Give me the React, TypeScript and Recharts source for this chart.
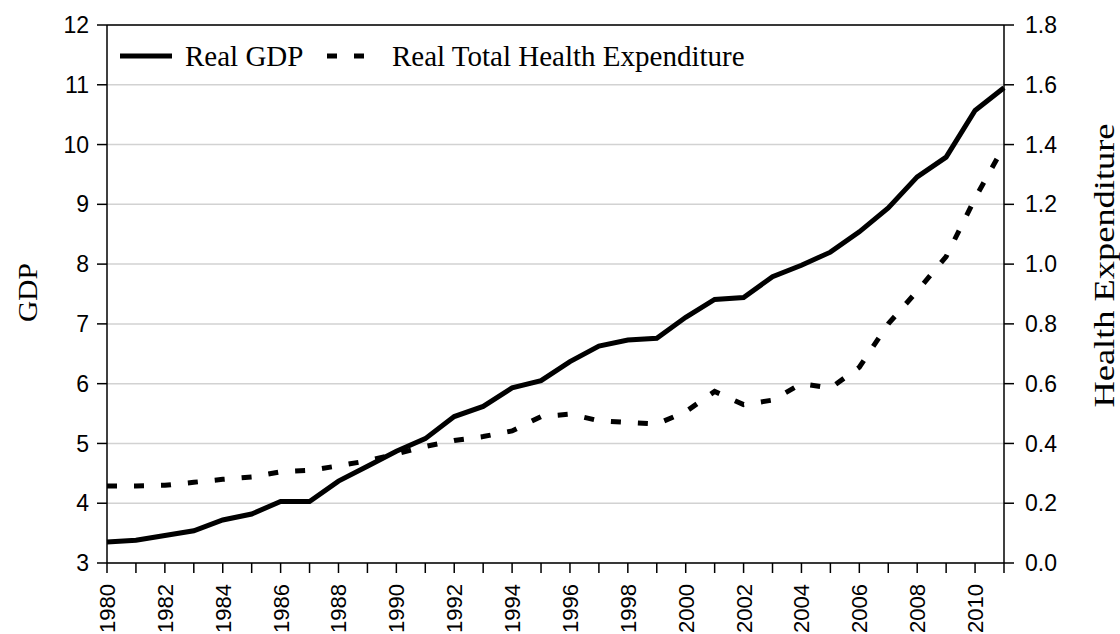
import { LineChart, Line, XAxis, YAxis, CartesianGrid, ReferenceLine, Legend } from 'recharts'

// years on the x axis
const years = [
  '1980', '1981', '1982', '1983', '1984', '1985', '1986', '1987', '1988', '1989',
  '1990', '1991', '1992', '1993', '1994', '1995', '1996', '1997', '1998', '1999',
  '2000', '2001', '2002', '2003', '2004', '2005', '2006', '2007', '2008', '2009',
  '2010', '2011',
]

// Real GDP (left axis)
const gdp = [
  3.35, 3.38, 3.46, 3.54, 3.72, 3.82, 4.03, 4.03, 4.37, 4.62,
  4.87, 5.08, 5.45, 5.62, 5.93, 6.05, 6.37, 6.63, 6.73, 6.76,
  7.11, 7.41, 7.44, 7.79, 7.98, 8.2, 8.54, 8.94, 9.46, 9.79,
  10.57, 10.95,
]

// Real Total Health Expenditure (right axis)
const health = [
  0.258, 0.258, 0.26, 0.27, 0.28, 0.288, 0.305, 0.31, 0.325, 0.342,
  0.365, 0.39, 0.41, 0.423, 0.442, 0.49, 0.498, 0.476, 0.47, 0.465,
  0.506, 0.574, 0.53, 0.545, 0.6, 0.585, 0.655, 0.8, 0.91, 1.025,
  1.22, 1.395,
]

const gdpTicks = [3, 4, 5, 6, 7, 8, 9, 10, 11, 12]
const healthTicks = [0, 0.2, 0.4, 0.6, 0.8, 1.0, 1.2, 1.4, 1.6, 1.8]

const data = years.map((year, i) => ({ year, gdp: gdp[i], health: health[i] }))

const SANS = '"Liberation Sans", Arial, sans-serif'
const SERIF = '"Liberation Serif", "Times New Roman", serif'

// only every second year gets a label, but every year gets a tick
function YearTick(props: any) {
  const { x, y, payload } = props
  if (Number(payload.value) % 2 !== 0) return null
  return (
    <text
      x={0}
      y={0}
      transform={`translate(${x},${y}) rotate(-90)`}
      textAnchor="end"
      dy="0.36em"
      fontSize={22}
      textLength={49}
      lengthAdjust="spacingAndGlyphs"
      fontFamily={SANS}
      fill="#000"
    >
      {payload.value}
    </text>
  )
}

function LegendBox(props: any) {
  const items = props.payload || []
  const solid = items.find((p: any) => p.dataKey === 'gdp')
  const dashed = items.find((p: any) => p.dataKey === 'health')
  return (
    <svg width={700} height={50} style={{ display: 'block' }}>
      <line x1={12} x2={64} y1={26} y2={26} stroke="#000" strokeWidth={5} />
      <text x={77} y={36} fontSize={29} fontFamily={SERIF} fill="#000">
        {solid ? solid.value : 'Real GDP'}
      </text>
      <line x1={219} x2={260} y1={26} y2={26} stroke="#000" strokeWidth={5} strokeDasharray="10 17" />
      <text x={284} y={36} fontSize={29} fontFamily={SERIF} fill="#000">
        {dashed ? dashed.value : 'Real Total Health Expenditure'}
      </text>
    </svg>
  )
}

export default function App() {
  return (
    <div style={{ position: 'absolute', left: 0, top: 0, background: '#fff' }}>
      <LineChart
        width={1120}
        height={634}
        data={data}
        margin={{ top: 25, right: 0, bottom: 0, left: 0 }}
      >
        <CartesianGrid yAxisId="left" vertical={false} stroke="#d2d2d2" strokeWidth={1.5} />
        <XAxis
          dataKey="year"
          interval={0}
          height={71}
          tickSize={10}
          tickMargin={11}
          axisLine={{ stroke: '#000', strokeWidth: 1.5 }}
          tickLine={{ stroke: '#000', strokeWidth: 1.5 }}
          tick={<YearTick />}
        />
        <YAxis
          yAxisId="left"
          width={107}
          domain={[3, 12]}
          ticks={gdpTicks}
          interval={0}
          tickSize={10}
          tickMargin={8}
          axisLine={{ stroke: '#000', strokeWidth: 1.5 }}
          tickLine={{ stroke: '#000', strokeWidth: 1.5 }}
          tick={{ fill: '#000', fontSize: 23, fontFamily: SANS }}
          label={() => (
            <text
              transform="translate(37, 292.5) rotate(-90)"
              textAnchor="middle"
              fontSize={27}
              textLength={59}
              lengthAdjust="spacingAndGlyphs"
              fontFamily={SERIF}
              fill="#000"
            >
              GDP
            </text>
          )}
        />
        <YAxis
          yAxisId="right"
          orientation="right"
          width={116}
          domain={[0, 1.8]}
          ticks={healthTicks}
          interval={0}
          tickSize={10}
          tickMargin={11}
          tickFormatter={(v: number) => v.toFixed(1)}
          axisLine={{ stroke: '#000', strokeWidth: 1.5 }}
          tickLine={{ stroke: '#000', strokeWidth: 1.5 }}
          tick={{ fill: '#000', fontSize: 23, fontFamily: SANS }}
          label={() => (
            <text
              transform="translate(1114, 265.5) rotate(-90)"
              textAnchor="middle"
              fontSize={30}
              textLength={284}
              lengthAdjust="spacingAndGlyphs"
              fontFamily={SERIF}
              fill="#000"
            >
              Health Expenditure
            </text>
          )}
        />
        <ReferenceLine yAxisId="left" y={12} stroke="#000" strokeWidth={1.5} />
        <Legend
          layout="vertical"
          align="center"
          verticalAlign="middle"
          wrapperStyle={{ position: 'absolute', left: 108, top: 30, width: 700 }}
          content={<LegendBox />}
        />
        <Line
          yAxisId="left"
          type="linear"
          dataKey="gdp"
          name="Real GDP"
          stroke="#000"
          strokeWidth={5}
          dot={false}
          isAnimationActive={false}
        />
        <Line
          yAxisId="right"
          type="linear"
          dataKey="health"
          name="Real Total Health Expenditure"
          stroke="#000"
          strokeWidth={5}
          strokeDasharray="10 17"
          dot={false}
          isAnimationActive={false}
        />
      </LineChart>
    </div>
  )
}
